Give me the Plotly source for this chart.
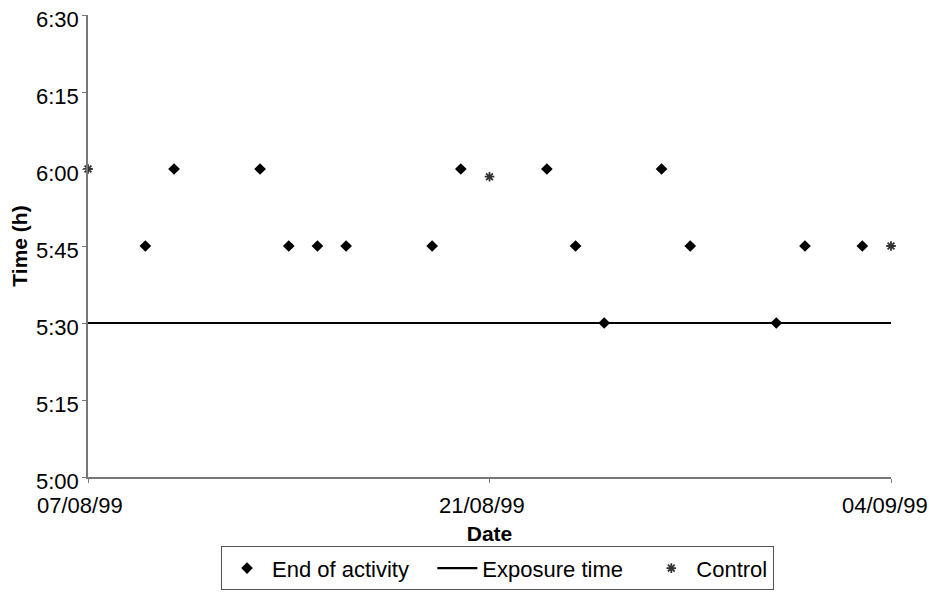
import plotly.graph_objects as go

# Days since 07/08/99
end_days = [2, 3, 6, 7, 8, 9, 12, 13, 16, 17, 18, 20, 21, 24, 25, 27]
# End of activity in minutes after midnight (5:45 = 345, 6:00 = 360, 5:30 = 330)
end_minutes = [345, 360, 360, 345, 345, 345, 345, 360, 360, 345, 330, 360, 345, 330, 345, 345]

control_days = [0, 14, 28]
control_minutes = [360, 358.5, 345]

exposure_days = [0, 28]
exposure_minutes = [330, 330]

x_tickvals = [0, 14, 28]
x_ticktext = ["07/08/99", "21/08/99", "04/09/99"]
y_tickvals = [300, 315, 330, 345, 360, 375, 390]
y_ticktext = ["5:00", "5:15", "5:30", "5:45", "6:00", "6:15", "6:30"]

FONT = "Liberation Sans, Arial, sans-serif"
TICK_FONT = dict(family=FONT, size=22, color="black")

fig = go.Figure()
fig.add_trace(go.Scatter(
    x=end_days, y=end_minutes, mode="markers", name="End of activity   ",
    marker=dict(symbol="diamond", size=9, color="black"),
    cliponaxis=False,
))
fig.add_trace(go.Scatter(
    x=exposure_days, y=exposure_minutes, mode="lines", name="Exposure time   ",
    line=dict(color="black", width=2.2),
    cliponaxis=False,
))
fig.add_trace(go.Scatter(
    x=control_days, y=control_minutes, mode="markers", name="Control",
    marker=dict(symbol="asterisk-open", size=8, color="#333333",
                line=dict(color="#333333", width=1.8)),
    cliponaxis=False,
))

# tick labels drawn as annotations (offset slightly, as in the original export)
x_label_shifts = [-8, -8, -6]
for xv, txt, sh in zip(x_tickvals, x_ticktext, x_label_shifts):
    fig.add_annotation(
        x=xv, y=0, xref="x", yref="paper", text=txt, showarrow=False,
        xanchor="center", yanchor="top", yshift=-14, xshift=sh,
        font=TICK_FONT,
    )
for yv, txt in zip(y_tickvals, y_ticktext):
    fig.add_annotation(
        x=0, y=yv, xref="paper", yref="y", text=txt, showarrow=False,
        xanchor="right", yanchor="middle", xshift=-7, yshift=-4,
        font=TICK_FONT,
    )

fig.update_layout(
    width=929, height=592,
    margin=dict(l=88, r=38, t=15, b=115, autoexpand=False),
    paper_bgcolor="white", plot_bgcolor="white",
    font=dict(family=FONT, size=22, color="black"),
    showlegend=True,
    legend=dict(
        orientation="h", x=0.51, xanchor="center", y=-0.15, yanchor="top",
        bordercolor="#555555", borderwidth=1, bgcolor="white",
        font=dict(family=FONT, size=22, color="black"),
        itemwidth=40, tracegroupgap=0,
    ),
    xaxis=dict(
        range=[0, 28], tickvals=x_tickvals, showticklabels=False, automargin=False,
        showgrid=False, zeroline=False, showline=True, linecolor="#777777", linewidth=1.5,
        ticks="outside", ticklen=4, tickcolor="#777777",
        title=dict(text="<b>Date</b>", standoff=45, font=dict(size=21)),
    ),
    yaxis=dict(
        range=[300, 390], tickvals=y_tickvals, showticklabels=False, automargin=False,
        showgrid=False, zeroline=False, showline=True, linecolor="#777777", linewidth=1.5,
        ticks="outside", ticklen=4, tickcolor="#777777",
        title=dict(text="<b>Time (h)</b>", standoff=49, font=dict(size=21)),
    ),
)

fig.write_html("out.html", config={"displayModeBar": False},
               post_script="document.body.style.margin='0';")
